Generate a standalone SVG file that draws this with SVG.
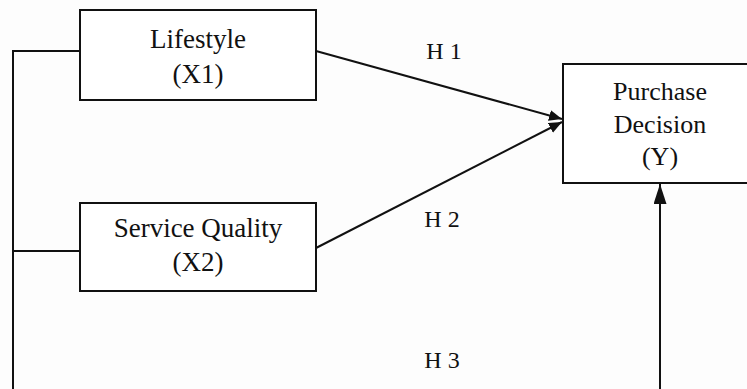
<svg xmlns="http://www.w3.org/2000/svg" width="747" height="389" viewBox="0 0 747 389">
  <style>
    .box { fill: #ffffff; stroke: #111111; stroke-width: 2; }
    .line { fill: none; stroke: #111111; stroke-width: 2; }
    .label { font-family: "Liberation Serif", "Times New Roman", serif; font-size: 27px; fill: #111111; text-anchor: middle; }
    .hyp { font-family: "Liberation Serif", "Times New Roman", serif; font-size: 24px; fill: #111111; text-anchor: middle; }
  </style>
  <defs>
    <marker id="arrow" viewBox="0 0 13 11" refX="13" refY="5.5" markerWidth="13" markerHeight="11" markerUnits="userSpaceOnUse" orient="auto">
      <path d="M0,0 L13,5.5 L0,11 z" fill="#111111"/>
    </marker>
    <marker id="arrowLong" viewBox="0 0 20 13" refX="20" refY="6.5" markerWidth="20" markerHeight="13" markerUnits="userSpaceOnUse" orient="auto">
      <path d="M0,0 L20,6.5 L0,13 z" fill="#111111"/>
    </marker>
  </defs>

  <rect width="747" height="389" fill="#fdfdfd"/>

  <!-- connectors -->
  <g id="connectors">
    <!-- left bracket linking both predictors to the bottom path -->
    <path class="line" d="M80,51 H13 V389"/>
    <path class="line" d="M80,251 H13"/>
    <!-- H1 and H2 paths -->
    <line class="line" x1="316" y1="51" x2="562" y2="119" marker-end="url(#arrow)"/>
    <line class="line" x1="316" y1="248" x2="562" y2="122" marker-end="url(#arrow)"/>
    <!-- H3 path rising from below -->
    <line class="line" x1="660" y1="389" x2="660" y2="184" marker-end="url(#arrowLong)"/>
  </g>

  <!-- hypothesis labels -->
  <g id="hypotheses">
    <text class="hyp" x="444" y="59">H 1</text>
    <text class="hyp" x="442" y="227">H 2</text>
    <text class="hyp" x="442" y="368">H 3</text>
  </g>

  <g id="lifestyle">
    <rect class="box" x="80" y="10" width="236" height="90"/>
    <text class="label" x="198" y="48">Lifestyle</text>
    <text class="label" x="198" y="83">(X1)</text>
  </g>

  <g id="service-quality">
    <rect class="box" x="80" y="203" width="236" height="88"/>
    <text class="label" x="198" y="237">Service Quality</text>
    <text class="label" x="198" y="271">(X2)</text>
  </g>

  <g id="purchase-decision">
    <rect class="box" x="563" y="64" width="200" height="119"/>
    <text class="label" x="660" y="100" style="font-size:26px">Purchase</text>
    <text class="label" x="660" y="133" style="font-size:26px">Decision</text>
    <text class="label" x="660" y="165" style="font-size:26px">(Y)</text>
  </g>
</svg>
